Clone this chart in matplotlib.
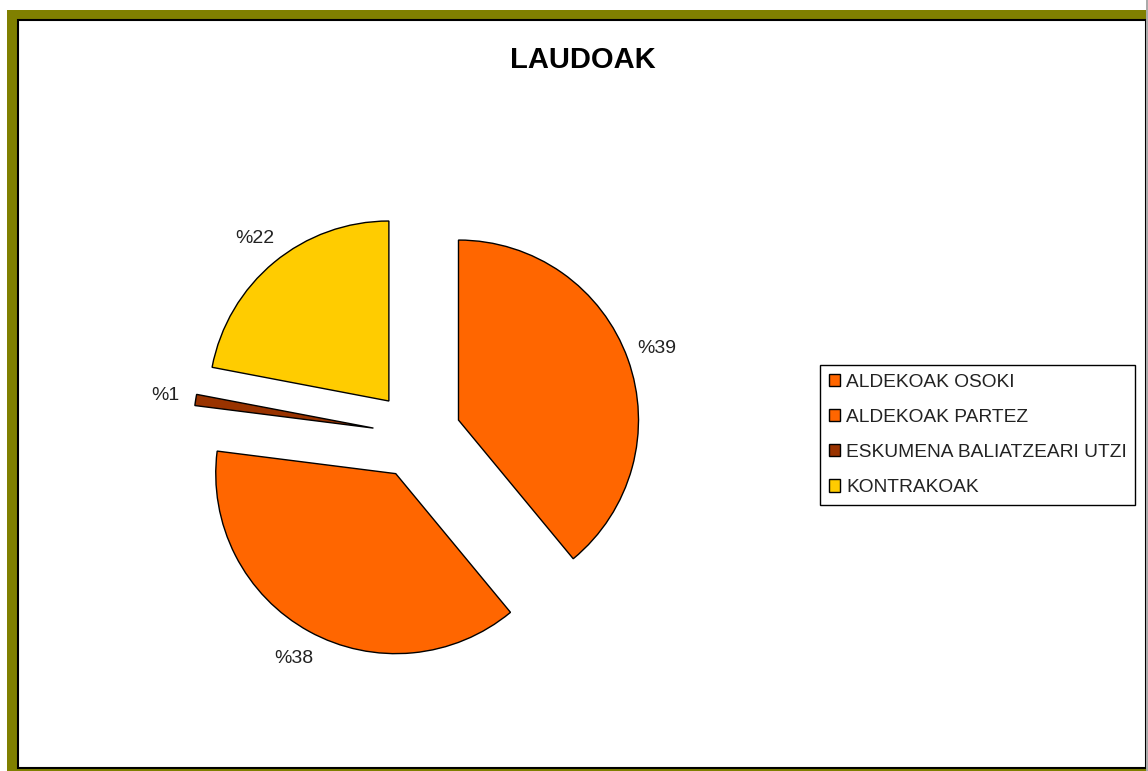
import matplotlib.pyplot as plt
from matplotlib.patches import Rectangle, Patch

plt.rcParams['font.family'] = ['Liberation Sans', 'DejaVu Sans']

categories = ["ALDEKOAK OSOKI", "ALDEKOAK PARTEZ", "ESKUMENA BALIATZEARI UTZI", "KONTRAKOAK"]
values = [39, 38, 1, 22]
labels = ["%39", "%38", "%1", "%22"]
colors = ["#FF6600", "#FF6600", "#993300", "#FFCC00"]

W, H = 1148, 771
fig = plt.figure(figsize=(W / 100, H / 100), dpi=100)
fig.patch.set_facecolor("white")

# olive frame (behind everything)
fig.patches.append(Rectangle((7 / W, 0), 1, 1 - 10 / H, transform=fig.transFigure,
                             facecolor="#808000", edgecolor="none", zorder=-3))
fig.patches.append(Rectangle((18 / W, 3 / H), (1146 - 18) / W, (771 - 20 - 3) / H,
                             transform=fig.transFigure, facecolor="white",
                             edgecolor="black", linewidth=1.5, zorder=-2))
fig.patches.append(Rectangle((1146 / W, 0), 2 / W, 1, transform=fig.transFigure,
                             facecolor="#aaaaaa", edgecolor="none", zorder=-1))

# pie axes: centre at (417, 435) px, radius 180 px
cx, cy, r = 417, 435, 180
half = 1.6 * r
ax = fig.add_axes([(cx - half) / W, (H - cy - half) / H, 2 * half / W, 2 * half / H])
ax.patch.set_visible(False)
wedges, texts = ax.pie(values, labels=labels, colors=colors, startangle=90,
                       counterclock=False, explode=[0.245] * 4, labeldistance=1.17,
                       wedgeprops=dict(edgecolor="black", linewidth=1),
                       textprops=dict(fontsize=14, color="#222222"))
for t in texts:
    t.set_ha("center")
    t.set_va("center")
ax.set_xlim(-1.6, 1.6)
ax.set_ylim(-1.6, 1.6)
ax.set_aspect("equal")
ax.set_axis_off()

fig.text(583 / W, 1 - 60 / H, "LAUDOAK", ha="center", va="center",
         fontsize=21, fontweight="bold")

handles = [Patch(facecolor=c, edgecolor="black", linewidth=1) for c in colors]
leg = fig.legend(handles, categories, loc="upper left",
                 bbox_to_anchor=(820 / W, 1 - 365 / H), borderaxespad=0,
                 fontsize=13.8, handlelength=0.6, handleheight=0.6,
                 handletextpad=0.3, labelspacing=0.95, borderpad=0.45,
                 fancybox=False, edgecolor="black", framealpha=1)
leg.get_frame().set_linewidth(1)
for t in leg.get_texts():
    t.set_color("#222222")

fig.savefig("out.png", dpi=100)
